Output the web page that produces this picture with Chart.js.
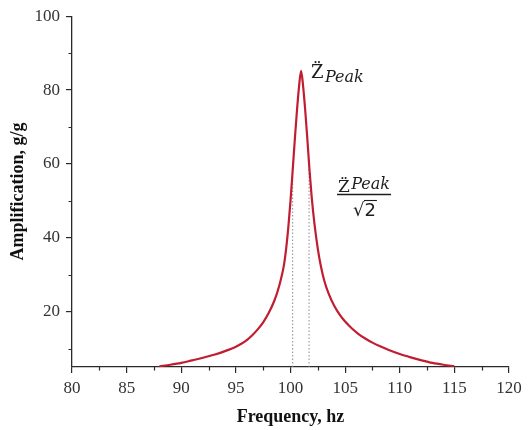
<!DOCTYPE html>
<html><head><meta charset="utf-8">
<script src="https://cdn.jsdelivr.net/npm/chart.js@4.4.0/dist/chart.umd.min.js"></script>
<style>html,body{margin:0;padding:0;background:#fff}#wrap{width:528px;height:430px}</style>
</head><body><div id="wrap"><canvas id="c" width="528" height="430"></canvas></div>
<script>
// ---- data ----
const frequency = [88, 89, 90, 91, 92, 93, 94, 95, 95.5, 96, 96.5, 97, 97.5, 98, 98.5, 98.8, 99.1, 99.4, 99.6, 99.8, 100.0, 100.2, 100.4, 100.6, 100.8, 100.97,
  101.14, 101.34, 101.54, 101.74, 101.94, 102.2, 102.5, 102.8, 103.1, 103.5, 104.0, 104.5, 105.0, 105.6, 106.2, 106.8, 107.5, 108.2, 109, 110, 111, 112, 113, 114, 115];
const amplification = [5.2, 5.6, 6.1, 6.8, 7.5, 8.3, 9.3, 10.5, 11.3, 12.3, 13.6, 15.2, 17.1, 19.6, 22.8, 25.3, 28.5, 32.6, 37.0, 42.8, 50.0, 58.3, 66.8, 74.8, 81.5, 85.2,
  81.5, 74.8, 66.8, 58.3, 51.0, 43.6, 37.0, 32.0, 28.3, 24.8, 21.6, 19.2, 17.3, 15.5, 14.0, 12.8, 11.6, 10.6, 9.6, 8.5, 7.6, 6.8, 6.1, 5.6, 5.2];
const xTicks = [80, 85, 90, 95, 100, 105, 110, 115, 120];
const yTicks = [20, 40, 60, 80, 100];
const xMinorTicks = [82.5, 87.5, 92.5, 97.5, 102.5, 107.5, 112.5, 117.5];
const yMinorTicks = [10, 30, 50, 70, 90];
const halfPowerFreqs = [100.2, 101.7];
const halfPowerLevel = 58.5;
const baseLevel = 5;
const xRange = [80, 120];
const yRange = [5, 100];

const curve = frequency.map((f, i) => ({x: f, y: amplification[i]}));
const dotted = halfPowerFreqs.map(f => ({
  data: [{x: f, y: baseLevel}, {x: f, y: halfPowerLevel}],
  borderColor: '#8a8a8a', borderWidth: 1, borderDash: [1.5, 2], pointRadius: 0, fill: false, order: 2
}));

const AX = '#2a2a2a';
const minorTicks = {
  id: 'minorTicks',
  afterDraw(chart) {
    const {ctx, scales: {x, y}, chartArea} = chart;
    ctx.save();
    ctx.strokeStyle = AX; ctx.lineWidth = 1.2;
    ctx.beginPath();
    xMinorTicks.forEach(v => { const p = Math.round(x.getPixelForValue(v)) + 0.5; ctx.moveTo(p, chartArea.bottom); ctx.lineTo(p, chartArea.bottom + 3.5); });
    yMinorTicks.forEach(v => { const p = Math.round(y.getPixelForValue(v)) + 0.5; ctx.moveTo(chartArea.left, p); ctx.lineTo(chartArea.left - 3.5, p); });
    ctx.stroke();
    ctx.restore();
  }
};

function drawZPeak(ctx, x, zBase, zSize, pSize, pBase) {
  ctx.font = zSize + 'px "DejaVu Serif"';
  ctx.fillText('Z\u0308', x, zBase);
  const w = ctx.measureText('Z').width;
  ctx.font = 'italic ' + pSize + 'px "DejaVu Serif"';
  ctx.fillText('Peak', x + w + 1.5, pBase);
  return w + 1.5 + ctx.measureText('Peak').width;
}

const annotations = {
  id: 'annotations',
  afterDraw(chart) {
    const ctx = chart.ctx;
    ctx.save();
    ctx.fillStyle = '#1e1e1e'; ctx.strokeStyle = '#1e1e1e';
    ctx.textAlign = 'left'; ctx.textBaseline = 'alphabetic';
    // peak label
    drawZPeak(ctx, 311, 78, 18, 16, 82);
    // fraction  Z_peak / sqrt(2)
    const nw = drawZPeak(ctx, 338, 192, 17, 16, 189);
    ctx.lineWidth = 1.3;
    ctx.beginPath(); ctx.moveTo(337, 194.5); ctx.lineTo(337 + nw + 2, 194.5); ctx.stroke();
    ctx.font = '18px "DejaVu Sans"';
    const sx = 353;
    ctx.fillText('\u221A', sx, 216);
    const rw = ctx.measureText('\u221A').width;
    ctx.fillText('2', sx + rw, 216);
    const tw = ctx.measureText('2').width;
    ctx.lineWidth = 1.1;
    ctx.beginPath(); ctx.moveTo(sx + rw - 0.5, 200.5); ctx.lineTo(sx + rw + tw + 1, 200.5); ctx.stroke();
    ctx.restore();
  }
};

const tickFont = {family: '"Liberation Serif", "Times New Roman", serif', size: 17};
const titleFont = {family: '"Liberation Serif", "Times New Roman", serif', size: 18, weight: 'bold'};

new Chart(document.getElementById('c'), {
  type: 'line',
  data: {
    datasets: [
      {data: curve, borderColor: '#c01d31', borderWidth: 2.2, pointRadius: 0, fill: false, cubicInterpolationMode: 'monotone', order: 1},
      ...dotted
    ]
  },
  options: {
    responsive: false, animation: false, devicePixelRatio: 1,
    layout: {padding: {top: 15, right: 19, left: 0, bottom: 0}},
    plugins: {legend: {display: false}, tooltip: {enabled: false}},
    scales: {
      x: {
        type: 'linear', min: xRange[0], max: xRange[1],
        afterBuildTicks: s => { s.ticks = xTicks.map(v => ({value: v})); },
        afterFit: s => { s.height = 63; },
        ticks: {font: tickFont, color: '#333', padding: 5, maxRotation: 0, autoSkip: false},
        grid: {drawOnChartArea: false, drawTicks: true, tickLength: 6, color: AX, lineWidth: 1.2},
        border: {display: true, color: AX, width: 1.3},
        title: {display: true, text: 'Frequency, hz', font: titleFont, color: '#111', padding: {top: 0, bottom: 2}}
      },
      y: {
        type: 'linear', min: yRange[0], max: yRange[1],
        afterBuildTicks: s => { s.ticks = yTicks.map(v => ({value: v})); },
        afterFit: s => { s.width = 72; },
        ticks: {font: tickFont, color: '#333', padding: 6},
        grid: {drawOnChartArea: false, drawTicks: true, tickLength: 6, color: AX, lineWidth: 1.2},
        border: {display: true, color: AX, width: 1.3},
        title: {display: true, text: 'Amplification, g/g', font: titleFont, color: '#111', padding: {top: 8, bottom: 0}}
      }
    }
  },
  plugins: [minorTicks, annotations]
});
</script>
</body></html>
